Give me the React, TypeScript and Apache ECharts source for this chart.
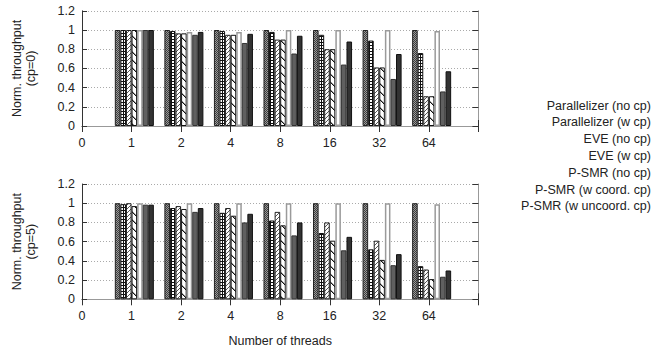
import React, { useEffect, useRef } from 'react';
import * as echarts from 'echarts';

// X categories (number of threads); the extra empty slot closes the axis on the right
const THREADS = ['0', '1', '2', '4', '8', '16', '32', '64'];
const SERIES_NAMES = [
  'Parallelizer (no cp)',
  'Parallelizer (w cp)',
  'EVE (no cp)',
  'EVE (w cp)',
  'P-SMR (no cp)',
  'P-SMR (w coord. cp)',
  'P-SMR (w uncoord. cp)',
];
const Y_TICKS = [0, 0.2, 0.4, 0.6, 0.8, 1, 1.2];

// cp=0 (values for threads 1,2,4,8,16,32,64)
const PAR_NOCP_CP0 = [1, 1, 1, 1, 1, 1, 1];
const PAR_WCP_CP0 = [1, 0.99, 0.99, 0.98, 0.95, 0.89, 0.76];
const EVE_NOCP_CP0 = [1, 0.965, 0.95, 0.9, 0.8, 0.61, 0.31];
const EVE_WCP_CP0 = [1, 0.965, 0.95, 0.9, 0.8, 0.61, 0.31];
const PSMR_NOCP_CP0 = [1, 0.98, 0.98, 1, 1, 1, 0.99];
const PSMR_COORD_CP0 = [1, 0.95, 0.865, 0.755, 0.64, 0.49, 0.36];
const PSMR_UNCOORD_CP0 = [1, 0.98, 0.96, 0.94, 0.88, 0.75, 0.57];

// cp=5
const PAR_NOCP_CP5 = [1, 1, 1, 1, 1, 1, 1];
const PAR_WCP_CP5 = [0.99, 0.95, 0.9, 0.82, 0.69, 0.52, 0.345];
const EVE_NOCP_CP5 = [1, 0.97, 0.95, 0.91, 0.8, 0.61, 0.31];
const EVE_WCP_CP5 = [0.97, 0.94, 0.87, 0.77, 0.61, 0.41, 0.21];
const PSMR_NOCP_CP5 = [1, 1, 1, 1, 1, 1, 0.99];
const PSMR_COORD_CP5 = [0.985, 0.91, 0.8, 0.665, 0.51, 0.355, 0.235];
const PSMR_UNCOORD_CP5 = [0.985, 0.95, 0.89, 0.8, 0.65, 0.47, 0.3];

const CP0 = [PAR_NOCP_CP0, PAR_WCP_CP0, EVE_NOCP_CP0, EVE_WCP_CP0, PSMR_NOCP_CP0, PSMR_COORD_CP0, PSMR_UNCOORD_CP0];
const CP5 = [PAR_NOCP_CP5, PAR_WCP_CP5, EVE_NOCP_CP5, EVE_WCP_CP5, PSMR_NOCP_CP5, PSMR_COORD_CP5, PSMR_UNCOORD_CP5];

const FONT = 'Liberation Sans, Arial, Helvetica, sans-serif';
const TEXT_COLOR = '#222';

function tile(w: number, h: number, draw: (px: (x: number, y: number, c: string) => void) => void) {
  const c = document.createElement('canvas');
  c.width = w;
  c.height = h;
  const ctx = c.getContext('2d')!;
  const px = (x: number, y: number, col: string) => {
    ctx.fillStyle = col;
    ctx.fillRect(((x % w) + w) % w, ((y % h) + h) % h, 1, 1);
  };
  draw(px);
  return { image: c, repeat: 'repeat', imageWidth: w, imageHeight: h };
}

export default function App() {
  const ref = useRef<HTMLDivElement>(null);
  useEffect(() => {
    document.body.style.margin = '0';
    if (!ref.current) return;

    const checker = tile(2, 2, (px) => {
      px(0, 0, '#3c3c3c');
      px(1, 1, '#3c3c3c');
      px(1, 0, '#9a9a9a');
      px(0, 1, '#9a9a9a');
    });
    const holes = tile(3, 3, (px) => {
      for (let x = 0; x < 3; x++) for (let y = 0; y < 3; y++) px(x, y, '#111');
      px(1, 1, '#fff');
      px(2, 1, '#fff');
      px(1, 2, '#fff');
      px(2, 2, '#fff');
    });
    const fwd = tile(4, 4, (px) => {
      for (let x = 0; x < 4; x++) for (let y = 0; y < 4; y++) px(x, y, '#fff');
      for (let i = 0; i < 4; i++) px(3 - i, i, '#555');
    });
    const back = tile(8, 8, (px) => {
      for (let x = 0; x < 8; x++) for (let y = 0; y < 8; y++) px(x, y, '#fff');
      for (let i = 0; i < 8; i++) {
        px(i, i, '#111');
        px(i + 1, i, '#999');
      }
    });

    const styles = [
      { color: checker, borderColor: '#222', borderWidth: 1 },
      { color: holes, borderColor: '#111', borderWidth: 1 },
      { color: fwd, borderColor: '#222', borderWidth: 1 },
      { color: back, borderColor: '#111', borderWidth: 1 },
      { color: '#fff', borderColor: '#9a9a9a', borderWidth: 1.5 },
      { color: '#606060', borderColor: '#333', borderWidth: 1 },
      { color: '#333', borderColor: '#111', borderWidth: 1 },
    ];

    const cats = [...THREADS, ''];
    const grids = [
      { left: 82, top: 10.8, width: 396.4, height: 115.2 },
      { left: 82, top: 184, width: 396.4, height: 115.3 },
    ];

    const xAxis: any[] = [];
    const yAxis: any[] = [];
    const series: any[] = [];

    [CP0, CP5].forEach((dataSet, g) => {
      xAxis.push({
        type: 'category',
        gridIndex: g,
        data: cats,
        boundaryGap: false,
        position: 'bottom',
        axisLine: { lineStyle: { color: '#333', width: 1 } },
        axisTick: { show: true, inside: true, length: 6, lineStyle: { color: '#333' } },
        axisLabel: {
          show: true,
          margin: 10,
          fontSize: 12.5,
          fontFamily: FONT,
          color: TEXT_COLOR,
          interval: 0,
          formatter: (v: string) => v,
        },
        splitLine: { show: false },
        name: g === 1 ? 'Number of threads' : '',
        nameLocation: 'middle',
        nameGap: 35.5,
        nameTextStyle: { fontSize: 12.5, fontFamily: FONT, color: TEXT_COLOR },
      });
      xAxis.push({
        type: 'category',
        gridIndex: g,
        data: cats,
        boundaryGap: false,
        position: 'top',
        axisLine: { lineStyle: { color: '#999', width: 1 } },
        axisTick: { show: true, inside: true, length: 6, lineStyle: { color: '#333' } },
        axisLabel: { show: false },
        splitLine: { show: false },
      });
      yAxis.push({
        type: 'value',
        gridIndex: g,
        min: 0,
        max: 1.2,
        interval: 0.2,
        position: 'left',
        axisLine: { show: true, lineStyle: { color: '#333', width: 1 } },
        axisTick: { show: true, inside: true, length: 5, lineStyle: { color: '#333' } },
        axisLabel: {
          margin: 7,
          fontSize: 12.5,
          fontFamily: FONT,
          color: TEXT_COLOR,
          formatter: (v: number) => String(Y_TICKS.find((t) => Math.abs(t - v) < 1e-6) ?? v),
        },
        splitLine: { show: true, lineStyle: { color: '#aaa', type: [1, 2], width: 1 } },
        name: g === 0 ? 'Norm. throughput\n(cp=0)' : 'Norm. throughput\n(cp=5)',
        nameLocation: 'middle',
        nameGap: 44,
        nameTextStyle: { fontSize: 12.5, fontFamily: FONT, color: TEXT_COLOR, lineHeight: 14, align: 'center' },
      });
      yAxis.push({
        type: 'value',
        gridIndex: g,
        min: 0,
        max: 1.2,
        interval: 0.2,
        position: 'right',
        axisLine: { show: true, lineStyle: { color: '#999', width: 1 } },
        axisTick: { show: true, inside: true, length: 6, lineStyle: { color: '#333' } },
        axisLabel: { show: false },
        splitLine: { show: false },
      });

      // empty leading slot (as in the original plot's cluster layout)
      series.push({
        type: 'bar',
        name: '',
        xAxisIndex: g * 2,
        yAxisIndex: g * 2,
        data: cats.map(() => '-'),
        barGap: '0%',
        barCategoryGap: '10%',
        silent: true,
      });
      dataSet.forEach((vals, i) => {
        series.push({
          type: 'bar',
          name: SERIES_NAMES[i],
          xAxisIndex: g * 2,
          yAxisIndex: g * 2,
          data: ['-', ...vals, '-'],
          barGap: '0%',
          barCategoryGap: '10%',
          itemStyle: styles[i],
          emphasis: { disabled: true },
        });
      });
    });

    const legendTexts = SERIES_NAMES.map((name, i) => ({
      type: 'text',
      right: 1,
      top: 106.7 + 16.77 * i - 7.5,
      style: {
        text: name,
        fontSize: 12.5,
        fontFamily: FONT,
        fill: TEXT_COLOR,
        textAlign: 'right',
      },
    }));

    const chart = echarts.init(ref.current, null, { renderer: 'svg' });
    chart.setOption({
      animation: false,
      backgroundColor: '#fff',
      grid: grids,
      xAxis,
      yAxis,
      series,
      graphic: legendTexts,
    });
    return () => chart.dispose();
  }, []);
  return <div ref={ref} style={{ width: 652, height: 352 }} />;
}
